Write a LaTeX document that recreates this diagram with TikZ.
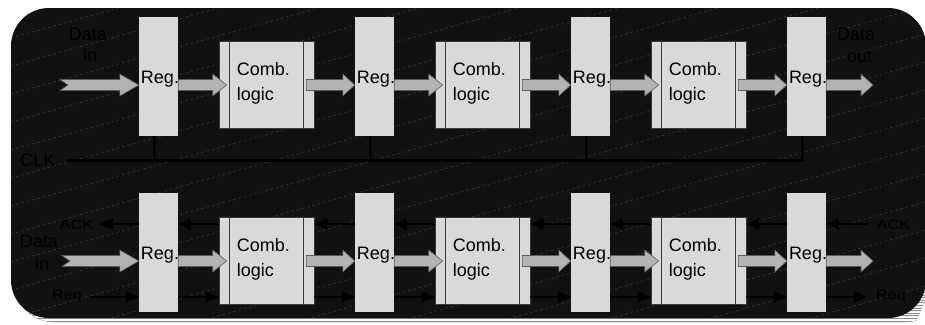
\documentclass[tikz,border=0pt]{standalone}
\usepackage{fontspec}
\setmainfont{Liberation Sans}
\newfontfamily\hsfont[FakeStretch=1.2]{Liberation Sans}
\usetikzlibrary{arrows.meta,calc}

\definecolor{panel}{HTML}{111111}
\definecolor{shade}{HTML}{3C3C3C}
\definecolor{stripe}{HTML}{8A8A8A}
\definecolor{texture}{HTML}{363636}
\definecolor{boxfill}{HTML}{D9D9D9}
\definecolor{boxline}{HTML}{3A3A3A}
\definecolor{busfill}{HTML}{B3B3B3}
\definecolor{busline}{HTML}{5A5A5A}

\tikzset{
  regbox/.style={rectangle, fill=boxfill, minimum width=39pt, minimum height=119pt, inner sep=0pt},
  combbox/.style={rectangle, fill=boxfill, draw=boxline, line width=0.6pt,
    minimum width=95pt, minimum height=87pt, inner sep=0pt},
  lbl/.style={font=\fontsize{18}{22}\selectfont, text=black, inner sep=0pt},
  hslbl/.style={font=\hsfont\fontsize{13.5}{16}\selectfont, text=black, inner sep=0pt},
  bus/.style={fill=busfill, draw=busline, line width=0.6pt, line join=miter},
  clkwire/.style={line width=2.5pt, black},
  hswire/.style={line width=2pt, black, -{Triangle[length=13pt,width=11pt]}},
}

% wide data-path arrow: tail point, tip point, head length
\newcommand\busarrow[3]{%
  \path[bus] let \p1=#1, \p2=#2 in
    (\x1,\y1+5.5pt) -- (\x2-#3,\y1+5.5pt) -- (\x2-#3,\y1+11pt) -- (\x2,\y1)
    -- (\x2-#3,\y1-11pt) -- (\x2-#3,\y1-5.5pt) -- (\x1,\y1-5.5pt) -- cycle;}
% same, with a notched tail
\newcommand\busnotch[3]{%
  \path[bus] let \p1=#1, \p2=#2 in
    (\x1,\y1+5.5pt) -- (\x2-#3,\y1+5.5pt) -- (\x2-#3,\y1+11pt) -- (\x2,\y1)
    -- (\x2-#3,\y1-11pt) -- (\x2-#3,\y1-5.5pt) -- (\x1,\y1-5.5pt)
    -- (\x1+8pt,\y1) -- cycle;}

\begin{document}
\begin{tikzpicture}[x=1pt,y=-1pt]
\useasboundingbox (0,0) rectangle (925,324);
\clip (0,0) rectangle (925,324);

% panel shadow with stripes
\fill[shade, rounded corners=40pt] (14,80) rectangle (945,322);
\begin{scope}
  \clip[rounded corners=40pt] (14,80) rectangle (945,322);
  \foreach \s in {0,...,16} \draw[stripe, line width=0.8pt] (0,{282+2.6*\s}) -- (925,{282+2.6*\s});
\end{scope}
\fill[white] (925,303) -- (925,330) -- (912,330) -- cycle;

% panel
\fill[panel, rounded corners=38pt] (11,8) rectangle (926,318);
\begin{scope}
  \clip[rounded corners=38pt] (11,8) rectangle (926,318);
  \foreach \k in {-6,...,16}
    \draw[texture, dash pattern=on 3pt off 2.5pt, line width=0.6pt]
      (0,{153.1+28*\k}) -- (930,{153.1+28*\k-260.4});
\end{scope}

% reference lines
\coordinate (tA) at (0,85);
\coordinate (bA) at (0,261);
\coordinate (ack) at (0,224);
\coordinate (req) at (0,297);
\coordinate (clkIn) at (67,160.5);
\coordinate (inTail) at (60,85);
\coordinate (outTip) at (873,85);
\coordinate (binTail) at (62,261);
\coordinate (boutTip) at (873,261);
\coordinate (ackOut) at (100,224);
\coordinate (ackIn) at (868,224);
\coordinate (reqIn) at (90,297);
\coordinate (reqOut) at (867,297);

% registers and logic blocks
\foreach \i in {1,...,4} {
  \node[regbox] (reg\i) at ({158.5+216*(\i-1)},76.5) {};
  \node[regbox] (breg\i) at ({158.5+216*(\i-1)},252.5) {};
}
\foreach \i in {1,2,3} {
  \node[combbox] (comb\i) at ({266.5+216*(\i-1)},84.5) {};
  \node[combbox] (bcomb\i) at ({266.5+216*(\i-1)},260.5) {};
  \foreach \c in {comb\i,bcomb\i} {
    \draw[boxline, line width=0.8pt] ($(\c.north west)+(11,0)$) -- ($(\c.south west)+(11,0)$);
    \draw[boxline, line width=0.8pt] ($(\c.north east)+(-11,0)$) -- ($(\c.south east)+(-11,0)$);
  }
}

% clock distribution
\foreach \i in {1,...,4} \coordinate (tk\i) at ($(reg\i.south)+(-4,0)$);
\foreach \i in {1,2,3} \draw[clkwire] (tk\i) -- (tk\i |- clkIn);
\draw[clkwire] (clkIn) -- (tk4 |- clkIn) -- (tk4);

% handshake wires (bottom pipeline)
\draw[hswire] (breg1.west |- ack) -- (ackOut);
\draw[hswire] (reqIn) -- (breg1.west |- req);
\foreach \i [evaluate=\i as \j using int(\i+1)] in {1,2,3} {
  \draw[hswire] (bcomb\i.west |- ack) -- (breg\i.east |- ack);
  \draw[hswire] (breg\j.west |- ack) -- (bcomb\i.east |- ack);
  \draw[hswire] (breg\i.east |- req) -- (bcomb\i.west |- req);
  \draw[hswire] (bcomb\i.east |- req) -- (breg\j.west |- req);
}
\draw[hswire] (ackIn) -- (breg4.east |- ack);
\draw[hswire] (breg4.east |- req) -- (reqOut);

% data path arrows
\busnotch{(inTail)}{(reg1.west |- tA)}{19pt}
\busnotch{(binTail)}{(breg1.west |- bA)}{19pt}
\foreach \i [evaluate=\i as \j using int(\i+1)] in {1,2,3} {
  \busarrow{(reg\i.east |- tA)}{($(comb\i.west |- tA)+(8,0)$)}{14pt}
  \busarrow{($(comb\i.east |- tA)+(-8,0)$)}{(reg\j.west |- tA)}{12pt}
  \busarrow{(breg\i.east |- bA)}{($(bcomb\i.west |- bA)+(8,0)$)}{14pt}
  \busarrow{($(bcomb\i.east |- bA)+(-8,0)$)}{(breg\j.west |- bA)}{12pt}
}
\busarrow{(reg4.east |- tA)}{(outTip)}{12pt}
\busarrow{(breg4.east |- bA)}{(boutTip)}{12pt}

% block labels
\foreach \i in {1,...,4} {
  \node[lbl, text height=13pt, text depth=0pt] (rt\i) at ($(reg\i)+(1.5,0)$) {Reg.};
  \node[lbl, text height=13pt, text depth=0pt] (brt\i) at ($(breg\i)+(1.5,0)$) {Reg.};
}
\foreach \i in {1,2,3} {
  \node[lbl, anchor=base west] (cta\i) at ($(comb\i.west)+(18,-9.5)$) {Comb.};
  \node[lbl, anchor=base west] (ctb\i) at ($(comb\i.west)+(18,15.5)$) {logic};
  \node[lbl, anchor=base west] (bcta\i) at ($(bcomb\i.west)+(18,-9.5)$) {Comb.};
  \node[lbl, anchor=base west] (bctb\i) at ($(bcomb\i.west)+(18,15.5)$) {logic};
}

% signal labels
\node[lbl, anchor=base] (dinA) at (88,40) {Data};
\node[lbl, anchor=base] (dinB) at (90.5,61.7) {in};
\node[lbl, anchor=base] (doutA) at (856,40) {Data};
\node[lbl, anchor=base] (doutB) at (859.5,62.5) {out};
\node[lbl, anchor=base] (clk) at (38,166.5) {CLK};
\node[lbl, anchor=base] (bdinA) at (39,247.3) {Data};
\node[lbl, anchor=base] (bdinB) at (42.5,270) {in};
\node[hslbl, anchor=base] (ackL) at (76.5,229.3) {ACK};
\node[hslbl, anchor=base] (ackR) at (893.5,229.3) {ACK};
\node[hslbl, anchor=base] (reqL) at (67,299.5) {Req};
\node[hslbl, anchor=base] (reqR) at (891,299.5) {Req};
\end{tikzpicture}
\end{document}
